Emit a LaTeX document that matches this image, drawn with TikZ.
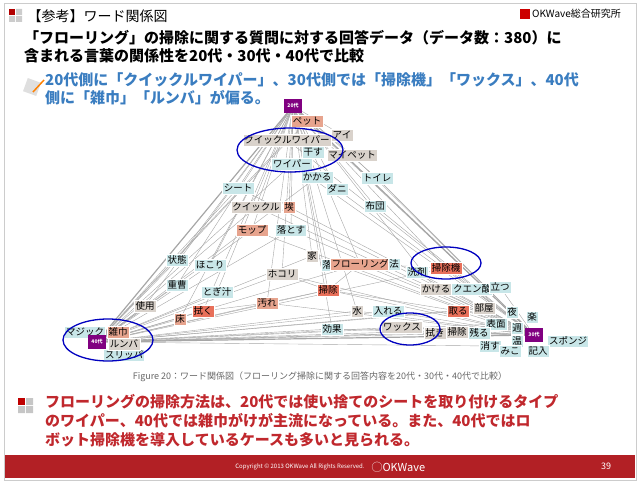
\documentclass[tikz,border=0pt]{standalone}
\usepackage{fontspec}
\setmainfont{Noto Sans CJK JP}
\usetikzlibrary{backgrounds}
\definecolor{wsalc}{HTML}{E7A48E}
\definecolor{wgrayc}{HTML}{D9D2CB}
\definecolor{wcyanc}{HTML}{C8E6E8}
\definecolor{wredc}{HTML}{E8705A}
\definecolor{hubc}{HTML}{800080}
\definecolor{titleblue}{HTML}{3A7DC0}
\definecolor{textred}{HTML}{C0282D}
\definecolor{barred}{HTML}{B22025}
\tikzset{
  word/.style={inner sep=1.5pt,minimum height=12pt,font=\fontsize{9.5}{10}\selectfont,draw=white,line width=0.3pt},
  wsal/.style={word,fill=wsalc},
  wgray/.style={word,fill=wgrayc},
  wcyan/.style={word,fill=wcyanc},
  wred/.style={word,fill=wredc},
  hub/.style={fill=hubc,text=white,inner sep=2pt,minimum width=18pt,minimum height=14pt,font=\bfseries\fontsize{5}{6}\selectfont},
  link/.style={draw=gray!70,line width=0.4pt},
  circ/.style={draw=blue!75!black,line width=1.3pt}
}
\begin{document}
\begin{tikzpicture}[x=1pt,y=-1pt]
\useasboundingbox (0,0) rectangle (640,484);
\draw[gray!40,line width=1pt] (4,4) rectangle (636,480);
% header
\fill[red!70!black] (9,9) rectangle (15,15);
\fill[gray!40] (16,9) rectangle (22,15) (9,16) rectangle (15,22) (16,16) rectangle (22,22);
\node[anchor=west,font=\fontsize{14}{16}\selectfont] (head) at (24,16) {【参考】ワード関係図};
\fill[red!80!black] (520,9) rectangle (530,19);
\node[anchor=west,font=\fontsize{10}{12}\selectfont,inner sep=0pt] (logo) at (532,14) {OKWave総合研究所};
\node[anchor=west,font=\bfseries\fontsize{15}{18}\selectfont,align=left,inner sep=0pt] (title) at (24,47)
  {「フローリング」の掃除に関する質問に対する回答データ（データ数：380）に\\含まれる言葉の関係性を20代・30代・40代で比較};
\fill[gray!25,rotate around={-20:(32,87)}] (25,80) rectangle (39,94);
\draw[orange,line width=1.5pt] (33,92) -- (44,80);
\node[anchor=west,font=\bfseries\fontsize{15}{18}\selectfont,align=left,inner sep=0pt,text=titleblue] (lead) at (45,89)
  {20代側に「クイックルワイパー」、30代側では「掃除機」「ワックス」、40代\\側に「雑巾」「ルンバ」が偏る。};
% hubs
\node[hub] (h20) at (293,106) {20代};
\node[hub] (h30) at (534,335) {30代};
\node[hub] (h40) at (97,342) {40代};
% words
\node[wsal]  (pet)      at (307,121) {ペット};
\node[wgray] (ai)       at (342,135) {アイ};
\node[wgray] (qwiper)   at (287,140) {クイックルワイパー};
\node[wgray] (mypet)    at (352,155) {マイペット};
\node[wcyan] (hosu)     at (313,152) {干す};
\node[wcyan] (wiper)    at (292,164) {ワイパー};
\node[wcyan] (kakaru)   at (317,177) {かかる};
\node[wcyan] (dani)     at (337,189) {ダニ};
\node[wcyan] (toilet)   at (377,178) {トイレ};
\node[wcyan] (sheet)    at (238,188) {シート};
\node[wgray] (quickle)  at (256,207) {クイックル};
\node[wsal]  (hokori1)  at (289,207) {埃};
\node[wcyan] (futon)    at (375,206) {布団};
\node[wsal]  (mop)      at (252,230) {モップ};
\node[wcyan] (otosu)    at (291,230) {落とす};
\node[wgray] (ie)       at (312,256) {家};
\node[wcyan] (joutai)   at (177,260) {状態};
\node[wcyan] (hokori3)  at (210,265) {ほこり};
\node[wcyan] (ochi)     at (327,265) {落};
\node[wsal]  (flooring) at (360,264) {フローリング};
\node[wcyan] (hou)      at (394,264) {法};
\node[wgray] (hokori2)  at (282,274) {ホコリ};
\node[wcyan] (senzai)   at (417,272) {洗剤};
\node[wred]  (soujiki)  at (446,268) {掃除機};
\node[wcyan] (juusou)   at (177,285) {重曹};
\node[wcyan] (togijiru) at (217,292) {とぎ汁};
\node[wred]  (souji)    at (328,290) {掃除};
\node[wgray] (kakeru)   at (436,289) {かける};
\node[wcyan] (citric)   at (472,289) {クエン酸};
\node[wcyan] (tatsu)    at (500,287) {立つ};
\node[wsal]  (yogore)   at (267,303) {汚れ};
\node[wgray] (shiyou)   at (145,306) {使用};
\node[wred]  (fuku)     at (203,311) {拭く};
\node[wgray] (mizu)     at (357,311) {水};
\node[wcyan] (ireru)    at (388,311) {入れる};
\node[wred]  (toru)     at (458,311) {取る};
\node[wgray] (heya)     at (484,308) {部屋};
\node[wcyan] (yoru)     at (512,312) {夜};
\node[wsal]  (yuka)     at (180,319) {床};
\node[wcyan] (raku)     at (532,317) {楽};
\node[wcyan] (hyoumen)  at (496,324) {表面};
\node[wcyan] (kouka)    at (332,329) {効果};
\node[wgray] (wax)      at (402,327) {ワックス};
\node[wgray] (fuki)     at (435,333) {拭き};
\node[wgray] (souji2)   at (457,332) {掃除};
\node[wcyan] (nokoru)   at (479,333) {残る};
\node[wcyan] (shuu)     at (517,328) {週};
\node[wcyan] (on)       at (517,341) {温};
\node[wcyan] (sponge)   at (568,341) {スポンジ};
\node[wcyan] (kesu)     at (490,346) {消す};
\node[wcyan] (shimi)    at (510,351) {みこ};
\node[wcyan] (kinyuu)   at (538,351) {記入};
\node[wcyan] (magic)    at (85,332) {マジック};
\node[wcyan] (slipper)  at (124,355) {スリッパ};
\node[wsal]  (zoukin)   at (118,332) {雑巾};
\node[wgray] (roomba)   at (124,344) {ルンバ};
\node[hub] at (97,342) {40代};
\node[hub] at (534,335) {30代};
% links
\begin{scope}[on background layer]
\foreach \w in {pet,ai,qwiper,mypet,hosu,wiper,kakaru,dani,toilet,sheet,quickle,hokori1,futon,mop,otosu,ie,ochi,flooring,hokori2,souji,yogore,fuku,yuka,mizu,kouka,joutai,hokori3,juusou,togijiru,shiyou,soujiki,kakeru}
  \draw[link] (h20) -- (\w);
\foreach \w in {pet,qwiper,wiper,sheet,quickle,mop,hokori1,toilet,futon,flooring,souji,soujiki,senzai,kakeru,citric,tatsu,toru,heya,yoru,wax,fuki,souji2,nokoru,hyoumen,ireru,mizu,kouka,yogore,hokori2,ie,otosu,dani,mypet}
  \draw[link] (h30) -- (\w);
\foreach \w in {pet,qwiper,wiper,sheet,quickle,mop,otosu,hokori2,souji,yogore,fuku,yuka,shiyou,juusou,togijiru,joutai,hokori3,mizu,kouka,wax,flooring,soujiki,toru,ireru,nokoru,fuki,souji2,kesu,hyoumen,heya,shuu,ie,kakaru}
  \draw[link] (h40) -- (\w);
\draw[link,line width=1.2pt] (h20) -- (h40) -- (h30) -- (h20);
\draw[link] (hokori2) -- (souji) -- (flooring) -- (soujiki);
\draw[link] (fuku) -- (yogore) -- (souji) -- (toru);
\draw[link] (wax) -- (souji2) -- (hyoumen);
\end{scope}
% circles
\draw[circ] (290,150) ellipse [x radius=53,y radius=22];
\draw[circ] (446,263) ellipse [x radius=35,y radius=16];
\draw[circ] (410,329) ellipse [x radius=30,y radius=16];
\draw[circ] (108,340) ellipse [x radius=45,y radius=21];
% caption and conclusion
\node[font=\fontsize{9}{11}\selectfont,text=gray!80!black] (cap) at (320,377)
  {Figure 20：ワード関係図（フローリング掃除に関する回答内容を20代・30代・40代で比較）};
\fill[red!75!black] (18,398) rectangle (25,405);
\fill[gray!45] (26,398) rectangle (33,405) (18,406) rectangle (25,413) (26,406) rectangle (33,413);
\node[anchor=west,font=\bfseries\fontsize{15}{19}\selectfont,align=left,inner sep=0pt,text=textred] (concl) at (45,421)
  {フローリングの掃除方法は、20代では使い捨てのシートを取り付けるタイプ\\のワイパー、40代では雑巾がけが主流になっている。また、40代ではロ\\ボット掃除機を導入しているケースも多いと見られる。};
% footer
\fill[barred] (5,455) rectangle (635,478);
\node[text=white,font=\fontsize{6}{7}\selectfont] (copy) at (300,467) {Copyright © 2013 OKWave All Rights Reserved.};
\node[text=white,font=\fontsize{11}{12}\selectfont,anchor=west] (okw) at (368,467) {◯OKWave};
\node[text=white,font=\fontsize{9}{10}\selectfont] (pg) at (606,466) {39};
\end{tikzpicture}
\end{document}
